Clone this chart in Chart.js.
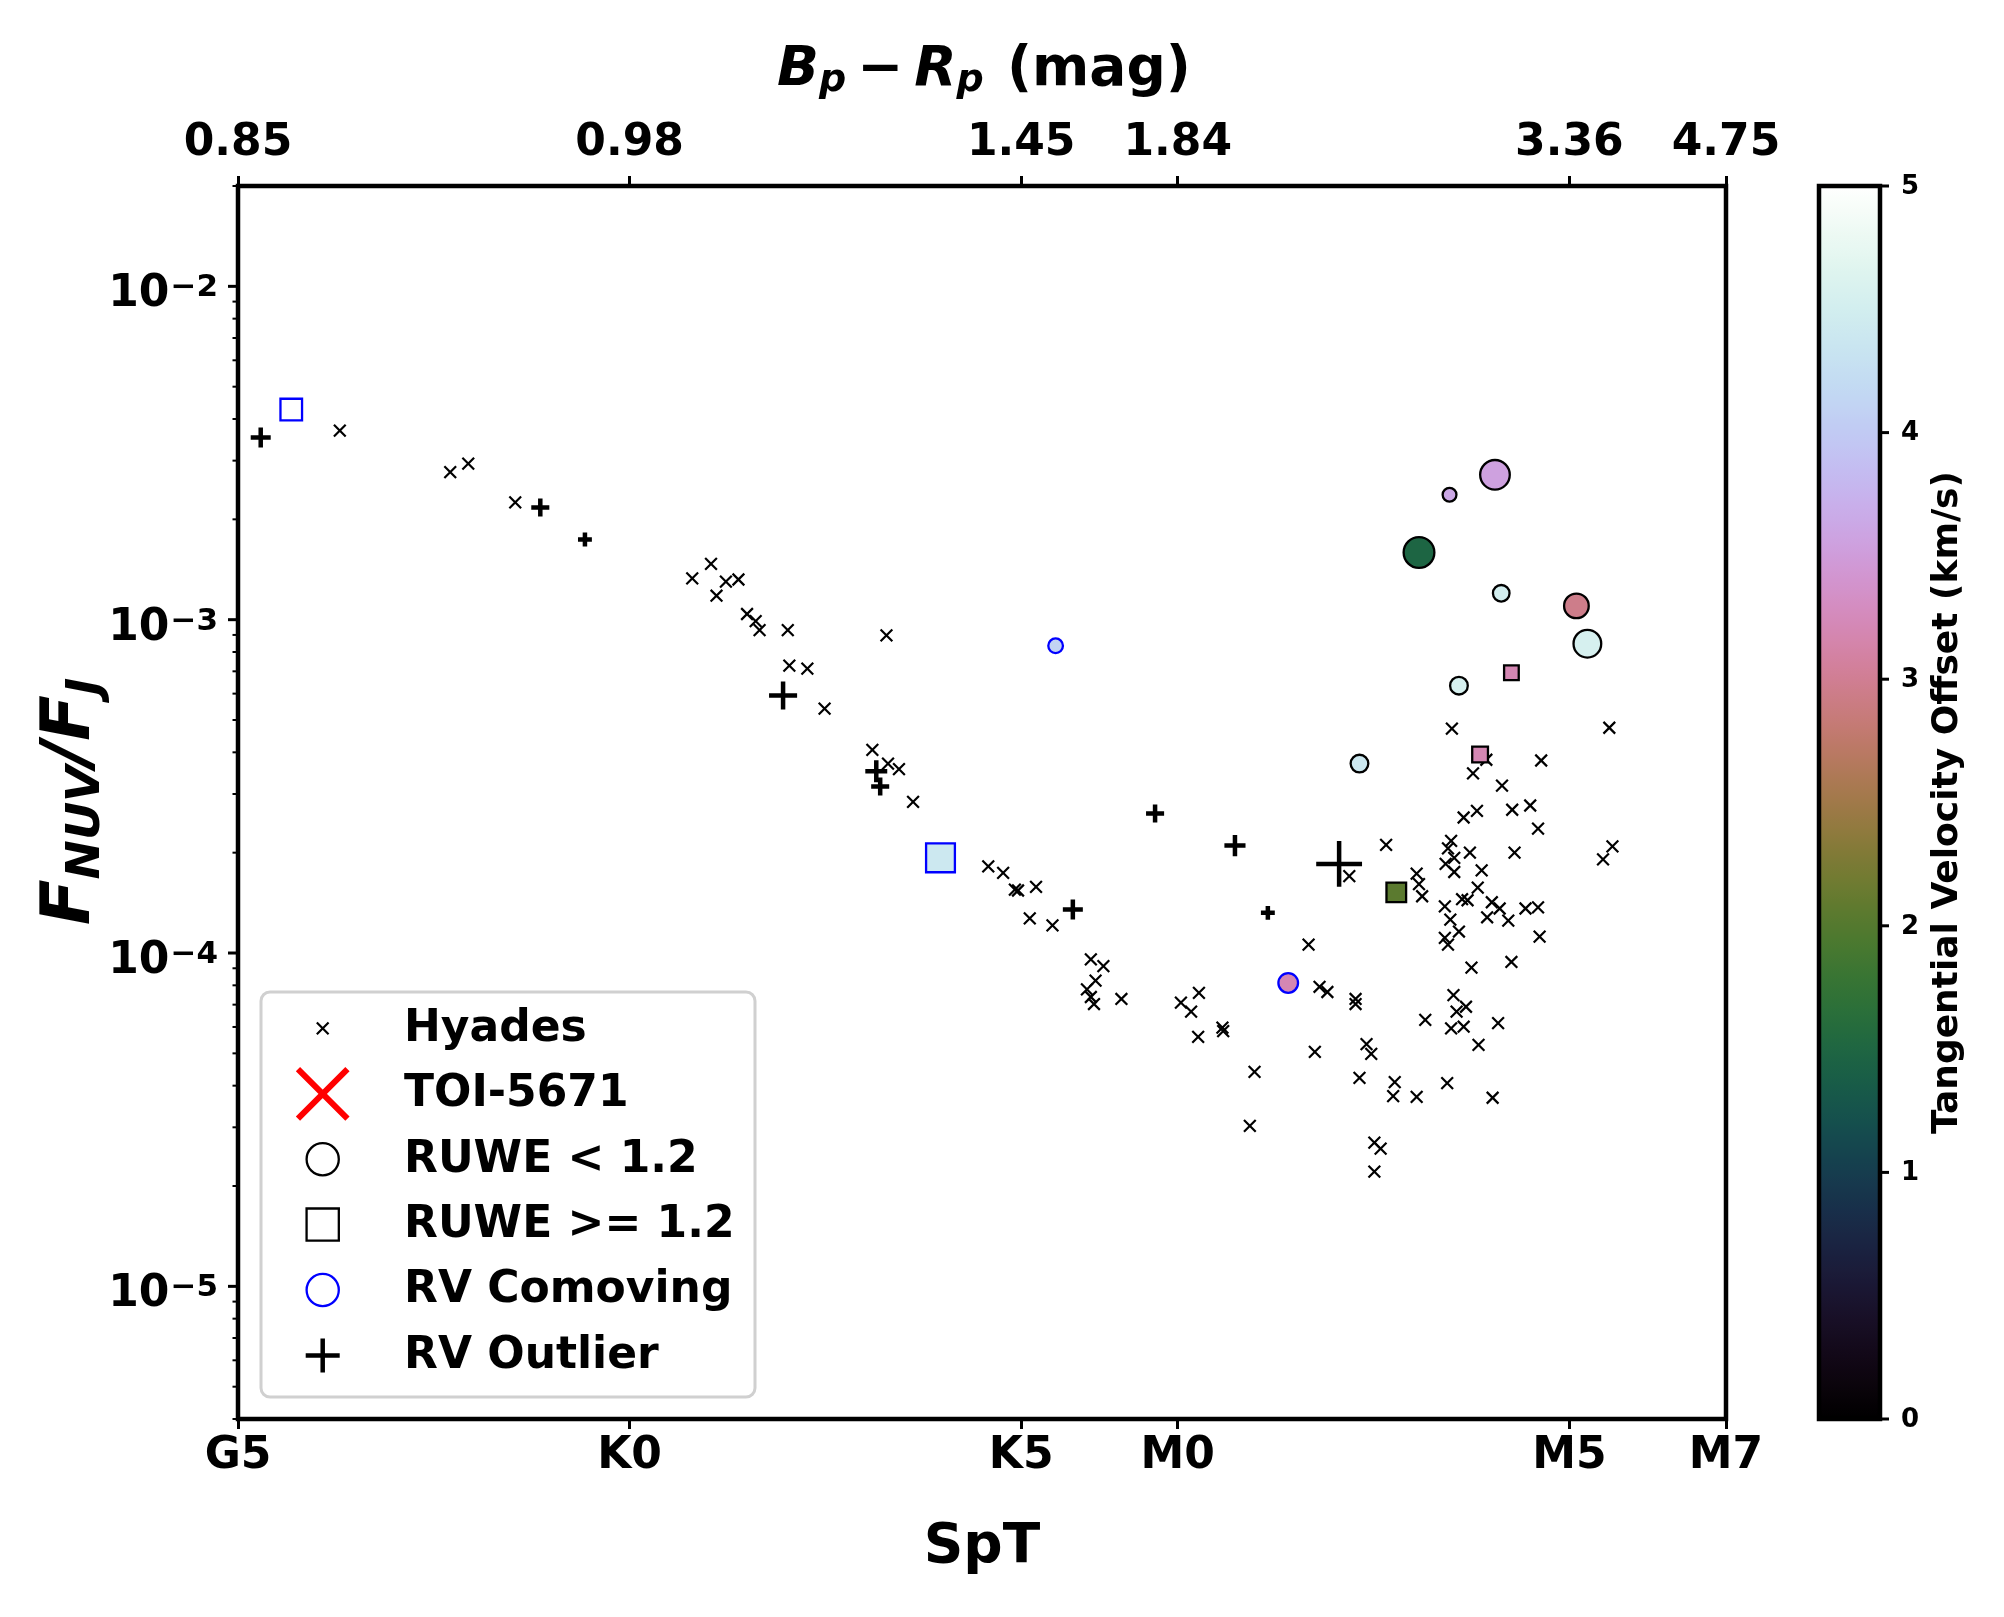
<!DOCTYPE html>
<html>
<head>
<meta charset="utf-8">
<script src="https://cdn.jsdelivr.net/npm/chart.js@4.4.1/dist/chart.umd.min.js"></script>
<style>
html,body{margin:0;padding:0;background:#fff;}
#wrap{width:2004px;height:1617px;position:relative;}
canvas{display:block;}
</style>
</head>
<body>
<div id="wrap"><canvas id="c" width="2004" height="1617" style="width:2004px;height:1617px"></canvas></div>
<script>
// ---------------- data ----------------
const sptTicks = [5, 10, 15, 17, 22, 24];
const sptTickLabels = ['G5', 'K0', 'K5', 'M0', 'M5', 'M7'];
const bpRpTickLabels = ['0.85', '0.98', '1.45', '1.84', '3.36', '4.75'];
const yDecadeTicks = [1e-5, 1e-4, 1e-3, 1e-2];
const cbarTicks = [0, 1, 2, 3, 4, 5];

const hyadesSpT = [6.30, 7.71, 7.94, 8.54, 10.80, 11.04, 11.23, 11.39, 11.11, 11.50,
  11.61, 11.66, 12.02, 12.04, 12.27, 12.49, 13.28, 13.10, 13.30, 13.44,
  13.62, 14.58, 14.77, 14.92, 14.96, 15.19, 15.11, 15.40, 15.89, 16.05,
  15.95, 15.84, 15.89, 15.93, 16.28, 17.04, 17.27, 17.17, 17.26, 17.57,
  17.58, 19.19, 19.66, 18.67, 18.81, 18.91, 19.27, 19.27, 17.98, 18.75,
  19.41, 19.47, 19.32, 19.77, 19.75, 20.05, 20.44, 21.02, 17.92, 19.51,
  19.59, 19.51, 20.05, 20.08, 20.12, 20.41, 20.48, 20.59, 20.41, 20.45,
  20.16, 20.52, 20.68, 20.56, 20.49, 20.65, 20.84, 21.09, 20.75, 21.26,
  21.62, 20.63, 20.70, 20.83, 21.01, 21.11, 20.95, 21.22, 21.44, 21.60,
  20.49, 20.45, 20.53, 20.42, 20.53, 20.73, 20.88, 21.30, 20.65, 20.82,
  21.27, 21.50, 21.60, 21.14, 22.55, 22.43, 20.50, 22.51, 20.94, 20.77,
  21.64];
const hyadesFlux = [3.69e-3, 2.77e-3, 2.94e-3, 2.25e-3, 1.33e-3, 1.47e-3, 1.30e-3, 1.32e-3, 1.18e-3, 1.04e-3,
  9.9e-4, 9.3e-4, 9.3e-4, 7.28e-4, 7.13e-4, 5.41e-4, 8.97e-4, 4.07e-4, 3.70e-4, 3.56e-4,
  2.84e-4, 1.82e-4, 1.74e-4, 1.55e-4, 1.54e-4, 1.58e-4, 1.27e-4, 1.21e-4, 9.57e-5, 9.14e-5,
  8.26e-5, 7.78e-5, 7.38e-5, 7.03e-5, 7.28e-5, 7.10e-5, 7.59e-5, 6.67e-5, 5.60e-5, 5.97e-5,
  5.83e-5, 1.70e-4, 2.11e-4, 1.06e-4, 7.92e-5, 7.64e-5, 7.28e-5, 7.03e-5, 4.40e-5, 5.05e-5,
  5.33e-5, 4.98e-5, 4.22e-5, 4.10e-5, 3.72e-5, 3.70e-5, 4.07e-5, 3.68e-5, 3.03e-5, 2.70e-5,
  2.59e-5, 2.21e-5, 1.73e-4, 1.61e-4, 1.48e-4, 1.38e-4, 1.26e-4, 1.16e-4, 1.11e-4, 1.06e-4,
  6.30e-5, 7.48e-5, 6.90e-5, 6.67e-5, 5.94e-5, 6.01e-5, 5.30e-5, 6.16e-5, 9.04e-5, 9.40e-5,
  1.12e-4, 1.45e-4, 1.44e-4, 1.57e-4, 1.42e-4, 1.36e-4, 1.28e-4, 1.25e-4, 1.36e-4, 1.37e-4,
  2.17e-4, 2.06e-4, 1.93e-4, 1.85e-4, 1.75e-4, 2.00e-4, 1.77e-4, 2.00e-4, 2.55e-4, 2.67e-4,
  2.69e-4, 2.77e-4, 2.36e-4, 3.18e-4, 2.09e-4, 1.91e-4, 4.71e-4, 4.74e-4, 3.80e-4, 3.46e-4,
  3.78e-4];

const toiSpT = [];
const toiFlux = [];

const outlierSpT  = [5.29, 8.86, 9.43, 11.96, 13.15, 13.20, 15.66, 16.71, 17.73, 18.15, 19.06];
const outlierFlux = [3.52e-3, 2.17e-3, 1.74e-3, 5.92e-4, 3.51e-4, 3.16e-4, 1.35e-4, 2.62e-4, 2.10e-4, 1.32e-4, 1.85e-4];
const outlierSize = [7.2, 6.5, 5.0, 10.1, 7.9, 6.5, 7.2, 6.5, 7.6, 5.0, 16.5];

const ruweLowSpT      = [21.05, 20.47, 20.08, 21.13, 22.09, 22.23, 20.59, 19.32, 18.41, 15.44];
const ruweLowFlux     = [2.72e-3, 2.37e-3, 1.59e-3, 1.20e-3, 1.10e-3, 8.47e-4, 6.34e-4, 3.70e-4, 8.13e-5, 8.35e-4];
const ruweLowVtan     = [3.55, 3.62, 1.48, 4.5, 2.95, 4.55, 4.55, 4.4, 3.2, 4.1];
const ruweLowSize     = [11.5, 5.8, 11.9, 6.8, 9.7, 10.8, 7.2, 7.2, 7.9, 6.1];
const ruweLowComoving = [false, false, false, false, false, false, false, false, true, true];

const ruweHighSpT      = [21.26, 20.86, 19.79, 13.97, 5.68];
const ruweHighFlux     = [6.93e-4, 3.94e-4, 1.52e-4, 1.93e-4, 4.27e-3];
const ruweHighVtan     = [3.2, 3.2, 2.05, 4.4, 5.0];
const ruweHighSize     = [6.1, 6.5, 7.9, 11.2, 8.6];
const ruweHighComoving = [false, false, false, true, true];

// ---------------- helpers ----------------
const PT = 200 / 72;          // pixels per point
const VMAX = 5;
const FONT = '"DejaVu Sans"';

function cubehelix(t) {
  const gamma = 1, s = 0.5, r = -1.5, h = 1;
  const xg = Math.pow(t, gamma);
  const a = h * xg * (1 - xg) / 2;
  const phi = 2 * Math.PI * (s / 3 + r * t);
  const c = Math.cos(phi), sn = Math.sin(phi);
  const R = xg + a * (-0.14861 * c + 1.78277 * sn);
  const G = xg + a * (-0.29227 * c - 0.90649 * sn);
  const B = xg + a * (1.97294 * c);
  const cl = v => Math.round(Math.max(0, Math.min(1, v)) * 255);
  return [cl(R), cl(G), cl(B)];
}
function vColor(v) {
  const c = cubehelix(Math.max(0, Math.min(1, v / VMAX)));
  return `rgb(${c[0]},${c[1]},${c[2]})`;
}
const pts = (xs, ys) => xs.map((x, i) => ({x: x, y: ys[i]}));

const MK_LW = 2.3;
const circleR = ruweLowSize.map(s => (s * PT - MK_LW) / 2);
const squareR = ruweHighSize.map(s => (s * PT - MK_LW) / Math.SQRT2);
const crossR = outlierSize.map(s => s * PT / 2);

function drawMarker(ctx, style, x, y, r, fill, stroke, lw) {
  ctx.save();
  ctx.lineWidth = lw; ctx.strokeStyle = stroke; ctx.fillStyle = fill || 'rgba(0,0,0,0)';
  ctx.lineCap = 'butt';
  ctx.beginPath();
  if (style === 'circle') {
    ctx.arc(x, y, r, 0, 2 * Math.PI);
    if (fill) ctx.fill();
    ctx.stroke();
  } else if (style === 'rect') {
    const s = Math.SQRT1_2 * r;
    ctx.rect(x - s, y - s, 2 * s, 2 * s);
    if (fill) ctx.fill();
    ctx.stroke();
  } else if (style === 'cross') {
    ctx.moveTo(x - r, y); ctx.lineTo(x + r, y);
    ctx.moveTo(x, y - r); ctx.lineTo(x, y + r);
    ctx.stroke();
  } else if (style === 'crossRot') {
    const d = r * Math.SQRT1_2;
    ctx.moveTo(x - d, y - d); ctx.lineTo(x + d, y + d);
    ctx.moveTo(x - d, y + d); ctx.lineTo(x + d, y - d);
    ctx.stroke();
  }
  ctx.restore();
}

function drawPieces(ctx, pieces) {
  // pieces: {t, f, dy}; returns total width; draws starting at x=0 baseline 0
  let w = 0;
  pieces.forEach(p => { ctx.font = p.f; p.w = ctx.measureText(p.t).width; w += p.w + (p.gap || 0); });
  let x = -w / 2;
  pieces.forEach(p => {
    ctx.font = p.f;
    ctx.fillText(p.t, x, p.dy || 0);
    x += p.w + (p.gap || 0);
  });
  return w;
}

const decor = {
  id: 'decor',
  afterDatasetsDraw(chart) {
    const ctx = chart.ctx;
    const a = chart.chartArea;
    const ys = chart.scales.y;
    ctx.save();
    ctx.fillStyle = '#000';
    ctx.strokeStyle = '#000';

    // y ticks (major + minor)
    for (let e = -6; e <= -2; e++) {
      for (let k = 1; k <= 9; k++) {
        const v = k * Math.pow(10, e);
        if (v < ys.min * 0.999 || v > ys.max * 1.001) continue;
        const py = ys.getPixelForValue(v);
        const major = (k === 1);
        ctx.lineWidth = major ? 3 : 2;
        ctx.beginPath();
        ctx.moveTo(a.left - (major ? 10 : 5.5), py);
        ctx.lineTo(a.left, py);
        ctx.stroke();
      }
    }
    // y tick labels 10^n
    ctx.textAlign = 'left';
    ctx.textBaseline = 'alphabetic';
    yDecadeTicks.forEach(v => {
      const py = ys.getPixelForValue(v);
      const exp = '\u2212' + Math.round(-Math.log10(v));
      ctx.font = `bold 44px ${FONT}`;
      const w10 = ctx.measureText('10').width;
      ctx.font = `bold 31px ${FONT}`;
      const we = ctx.measureText(exp).width;
      const x0 = a.left - 21 - we - w10;
      ctx.font = `bold 44px ${FONT}`;
      ctx.fillText('10', x0, py + 20);
      ctx.font = `bold 31px ${FONT}`;
      ctx.fillText(exp, x0 + w10 + 1, py + 10);
    });

    // frame
    ctx.lineWidth = 4.5;
    ctx.strokeRect(a.left, a.top, a.right - a.left, a.bottom - a.top);

    // top title  B_p - R_p (mag)
    ctx.save();
    ctx.translate((a.left + a.right) / 2 + 2, 85);
    ctx.textAlign = 'left';
    const bi = `italic bold 55px ${FONT}`, bis = `italic bold 38px ${FONT}`, bu = `bold 55px ${FONT}`;
    drawPieces(ctx, [
      {t: 'B', f: bi}, {t: 'p', f: bis, dy: 6, gap: 11},
      {t: '\u2212', f: bu, gap: 11},
      {t: 'R', f: bi}, {t: 'p', f: bis, dy: 6, gap: 4},
      {t: ' (mag)', f: bu}
    ]);
    ctx.restore();

    // y title F_NUV / F_J
    ctx.save();
    ctx.translate(89, (a.top + a.bottom) / 2 - 1);
    ctx.rotate(-Math.PI / 2);
    ctx.textAlign = 'left';
    const yi = `italic bold 67px ${FONT}`, yis = `italic bold 47px ${FONT}`;
    drawPieces(ctx, [
      {t: 'F', f: yi}, {t: 'NUV', f: yis, dy: 10},
      {t: '/', f: yi},
      {t: 'F', f: yi}, {t: 'J', f: yis, dy: 10}
    ]);
    ctx.restore();

    // legend
    const lx = 261, ly = 992, lw = 494, lh = 405;
    ctx.save();
    ctx.beginPath();
    ctx.roundRect(lx, ly, lw, lh, 9);
    ctx.fillStyle = 'rgba(255,255,255,0.8)';
    ctx.fill();
    ctx.lineWidth = 3;
    ctx.strokeStyle = '#d0d0d0';
    ctx.stroke();
    ctx.restore();
    const rows = [
      {label: 'Hyades', draw: (x, y) => drawMarker(ctx, 'crossRot', x, y, 8.3, null, '#000', 2.2)},
      {label: 'TOI-5671', draw: (x, y) => drawMarker(ctx, 'crossRot', x, y, 35, null, '#ff0000', 6)},
      {label: 'RUWE < 1.2', draw: (x, y) => drawMarker(ctx, 'circle', x, y, 16.1, '#fff', '#000', MK_LW)},
      {label: 'RUWE >= 1.2', draw: (x, y) => drawMarker(ctx, 'rect', x, y, 22.8, '#fff', '#000', MK_LW)},
      {label: 'RV Comoving', draw: (x, y) => drawMarker(ctx, 'circle', x, y, 16.1, '#fff', '#0000ff', MK_LW)},
      {label: 'RV Outlier', draw: (x, y) => drawMarker(ctx, 'cross', x, y, 17, null, '#000', 4.5)}
    ];
    ctx.fillStyle = '#000';
    ctx.textAlign = 'left';
    ctx.textBaseline = 'middle';
    ctx.font = `bold 44px ${FONT}`;
    rows.forEach((r, i) => {
      const y = 1028.4 + i * 65.4;
      r.draw(322.7, y);
      ctx.fillStyle = '#000';
      ctx.font = `bold 44px ${FONT}`;
      ctx.fillText(r.label, 404, y + 1);
    });

    // colorbar
    const cl = a.right + 93, cr = a.right + 154, ct = a.top, cb = a.bottom;
    const grad = ctx.createLinearGradient(0, cb, 0, ct);
    for (let i = 0; i <= 100; i++) {
      grad.addColorStop(i / 100, vColor(i / 100 * VMAX));
    }
    ctx.fillStyle = grad;
    ctx.fillRect(cl, ct, cr - cl, cb - ct);
    ctx.lineWidth = 4.5;
    ctx.strokeStyle = '#000';
    ctx.strokeRect(cl, ct, cr - cl, cb - ct);
    ctx.fillStyle = '#000';
    ctx.font = `bold 26px ${FONT}`;
    ctx.textAlign = 'left';
    ctx.textBaseline = 'middle';
    cbarTicks.forEach(v => {
      const py = cb - v / VMAX * (cb - ct);
      ctx.lineWidth = 3;
      ctx.beginPath(); ctx.moveTo(cr, py); ctx.lineTo(cr + 9, py); ctx.stroke();
      ctx.fillText(String(v), cr + 21, py + 1);
    });
    ctx.save();
    ctx.translate(cr + 77, (ct + cb) / 2);
    ctx.rotate(-Math.PI / 2);
    ctx.textAlign = 'center';
    ctx.textBaseline = 'alphabetic';
    ctx.font = `bold 36px ${FONT}`;
    ctx.fillText('Tangential Velocity Offset (km/s)', 0, 0);
    ctx.restore();

    ctx.restore();
  }
};

Chart.defaults.font.family = 'DejaVu Sans';
Chart.defaults.color = '#000';

const tickFont = {family: 'DejaVu Sans', size: 44, weight: 'bold', lineHeight: 1.2};

new Chart(document.getElementById('c'), {
  type: 'scatter',
  data: {
    datasets: [
      {
        label: 'RUWE < 1.2',
        data: pts(ruweLowSpT, ruweLowFlux),
        pointStyle: 'circle',
        pointRadius: circleR,
        pointHoverRadius: circleR,
        backgroundColor: ruweLowVtan.map(vColor),
        borderColor: ruweLowComoving.map(c => c ? '#0000ff' : '#000000'),
        borderWidth: MK_LW,
        order: 1
      },
      {
        label: 'RUWE >= 1.2',
        data: pts(ruweHighSpT, ruweHighFlux),
        pointStyle: 'rect',
        pointRadius: squareR,
        pointHoverRadius: squareR,
        backgroundColor: ruweHighVtan.map(vColor),
        borderColor: ruweHighComoving.map(c => c ? '#0000ff' : '#000000'),
        borderWidth: MK_LW,
        order: 2
      },
      {
        label: 'TOI-5671',
        data: pts(toiSpT, toiFlux),
        pointStyle: 'crossRot',
        pointRadius: 35,
        borderColor: '#ff0000',
        backgroundColor: '#ff0000',
        borderWidth: 6,
        order: 3
      },
      {
        label: 'RV Outlier',
        data: pts(outlierSpT, outlierFlux),
        pointStyle: 'cross',
        pointRadius: crossR,
        pointHoverRadius: crossR,
        borderColor: '#000',
        backgroundColor: '#000',
        borderWidth: 4.5,
        order: 4
      },
      {
        label: 'Hyades',
        data: pts(hyadesSpT, hyadesFlux),
        pointStyle: 'crossRot',
        pointRadius: 8.3,
        pointHoverRadius: 8.3,
        borderColor: '#000',
        backgroundColor: '#000',
        borderWidth: 2.2,
        order: 5
      }
    ]
  },
  options: {
    responsive: false,
    animation: false,
    devicePixelRatio: 1,
    events: [],
    layout: {padding: {left: 0, right: 278, top: 0, bottom: 0}},
    plugins: {legend: {display: false}, tooltip: {enabled: false}, title: {display: false}},
    scales: {
      x: {
        type: 'linear', position: 'bottom', min: 5, max: 24,
        afterBuildTicks: s => { s.ticks = sptTicks.map(v => ({value: v})); },
        afterFit: s => { s.height = 198; },
        ticks: {
          autoSkip: false, maxRotation: 0, minRotation: 0, padding: 1, color: '#000',
          font: tickFont,
          callback: (v, i) => sptTickLabels[i]
        },
        grid: {display: true, drawOnChartArea: false, drawTicks: true, tickLength: 10, tickWidth: 3, tickColor: '#000'},
        border: {display: false},
        title: {
          display: true, text: 'SpT', color: '#000',
          font: {family: 'DejaVu Sans', size: 55, weight: 'bold', lineHeight: 1.2},
          padding: {top: 0, bottom: 36}
        }
      },
      x2: {
        type: 'linear', axis: 'x', position: 'top', min: 5, max: 24,
        afterBuildTicks: s => { s.ticks = sptTicks.map(v => ({value: v})); },
        afterFit: s => { s.height = 186; },
        ticks: {
          autoSkip: false, maxRotation: 0, minRotation: 0, padding: 6, color: '#000',
          font: tickFont,
          callback: (v, i) => bpRpTickLabels[i]
        },
        grid: {display: true, drawOnChartArea: false, drawTicks: true, tickLength: 10, tickWidth: 3, tickColor: '#000'},
        border: {display: false},
        title: {display: false}
      },
      y: {
        type: 'logarithmic', position: 'left', min: 4e-6, max: 2e-2,
        afterFit: s => { s.width = 238; },
        ticks: {display: false},
        grid: {display: false},
        border: {display: false},
        title: {display: false}
      }
    }
  },
  plugins: [decor]
});
</script>
</body>
</html>
